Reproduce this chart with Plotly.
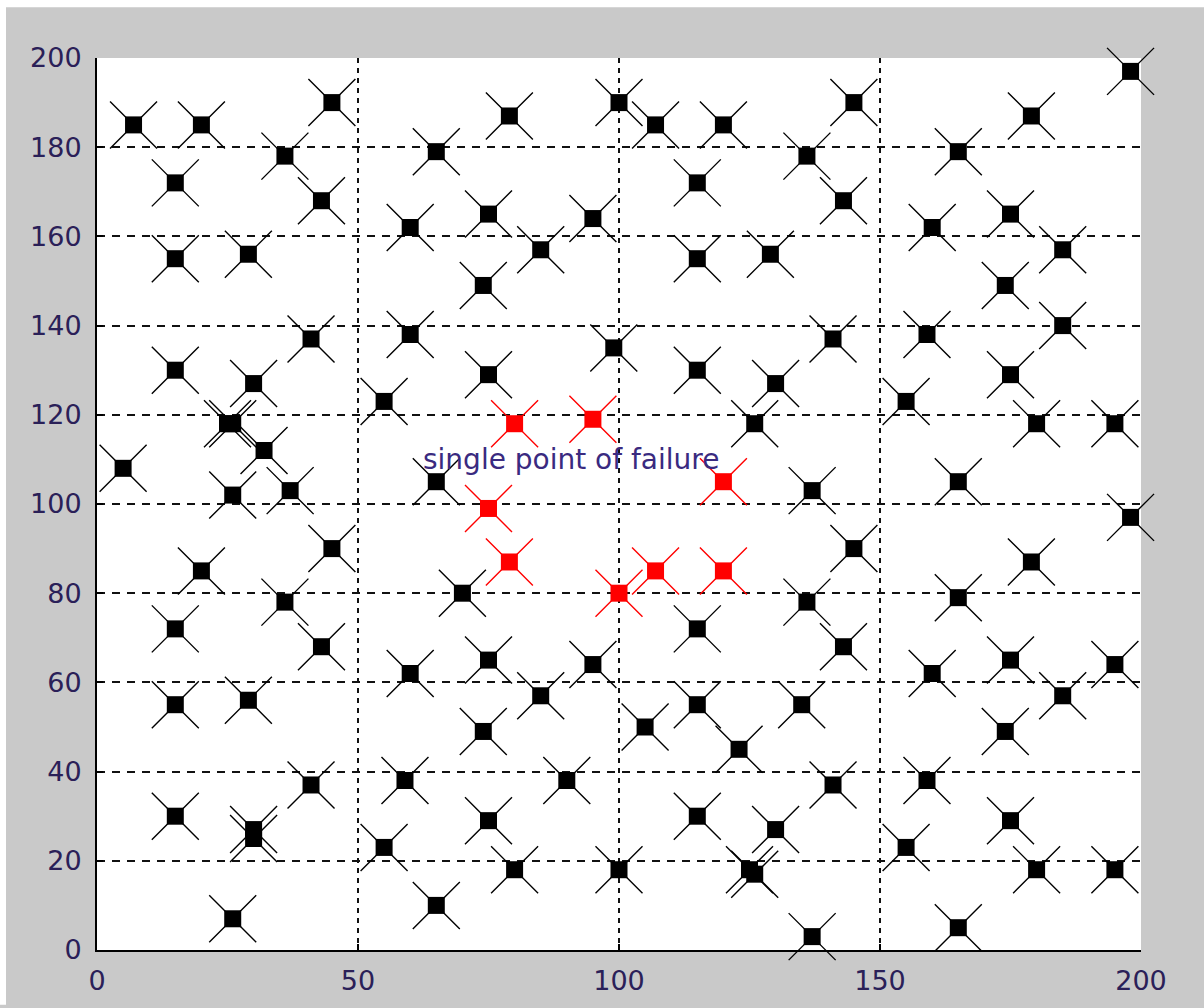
import plotly.graph_objects as go

# Node positions (x, y) in the 200 x 200 field
black_x = [7, 20, 45, 36, 15, 43, 15, 29,
           65, 79, 100, 107, 120, 115, 60, 75, 95, 85, 115, 129, 74, 60,
           198, 145, 179, 136, 165, 143, 175, 160, 185, 174, 185, 141, 159,
           41, 15, 30, 55, 25, 26, 32, 5, 26, 37, 45, 20, 36, 15, 43,
           99, 75, 115, 130, 126, 65, 70, 115,
           155, 175, 180, 195, 165, 137, 198, 145, 179, 136, 165, 143, 175, 195,
           15, 29, 41, 15, 30, 30, 55, 26,
           60, 75, 95, 85, 115, 135, 74, 105, 123, 59, 90, 75, 115, 130,
           80, 100, 125, 126, 65,
           160, 185, 174, 141, 159, 175, 155, 180, 195, 165, 137]
black_y = [185, 185, 190, 178, 172, 168, 155, 156,
           179, 187, 190, 185, 185, 172, 162, 165, 164, 157, 155, 156, 149, 138,
           197, 190, 187, 178, 179, 168, 165, 162, 157, 149, 140, 137, 138,
           137, 130, 127, 123, 118, 118, 112, 108, 102, 103, 90, 85, 78, 72, 68,
           135, 129, 130, 127, 118, 105, 80, 72,
           123, 129, 118, 118, 105, 103, 97, 90, 87, 78, 79, 68, 65, 64,
           55, 56, 37, 30, 27, 25, 23, 7,
           62, 65, 64, 57, 55, 55, 49, 50, 45, 38, 38, 29, 30, 27,
           18, 18, 18, 17, 10,
           62, 57, 49, 37, 38, 29, 23, 18, 18, 5, 3]

# Nodes flagged as single points of failure
red_x = [80, 95, 120, 75, 79, 107, 120, 100]
red_y = [118, 119, 105, 99, 87, 85, 85, 80]

label_text = "single point of failure"
label_x, label_y = 62, 110

x_ticks = [0, 50, 100, 150, 200]
y_ticks = [0, 20, 40, 60, 80, 100, 120, 140, 160, 180, 200]

W, H = 1204, 1008
ML, MR, MT, MB = 97, 63, 58, 53
PW, PH = W - ML - MR, H - MT - MB

tick_font = dict(family="DejaVu Sans", size=27, color="#2a2058")

fig = go.Figure()


def add_nodes(xs, ys, color):
    # large thin cross around each node
    fig.add_trace(go.Scatter(
        x=xs, y=ys, mode="markers", cliponaxis=False, hoverinfo="skip",
        marker=dict(symbol="x-thin", size=47, color=color,
                    line=dict(color=color, width=1.4)),
        showlegend=False))
    # filled square at the node itself
    fig.add_trace(go.Scatter(
        x=xs, y=ys, mode="markers", cliponaxis=False,
        marker=dict(symbol="square", size=17, color=color,
                    line=dict(width=0)),
        showlegend=False))


add_nodes(black_x, black_y, "#000000")
add_nodes(red_x, red_y, "#ff0000")

fig.add_annotation(x=label_x, y=label_y, text=label_text, showarrow=False,
                   xanchor="left", yanchor="middle",
                   font=dict(family="DejaVu Sans", size=28, color="#3a2a80"))


def px_x(px):
    return (px - ML) / PW


def px_y(py):
    return (H - MB - py) / PH


# thin white border strips along the top and left of the figure
fig.add_shape(type="rect", xref="paper", yref="paper",
              x0=px_x(0), x1=px_x(W), y0=px_y(7), y1=px_y(-2),
              fillcolor="white", line=dict(width=0), layer="below")
fig.add_shape(type="rect", xref="paper", yref="paper",
              x0=px_x(-2), x1=px_x(6), y0=px_y(H + 2), y1=px_y(-2),
              fillcolor="white", line=dict(width=0), layer="below")

fig.update_xaxes(
    range=[0, 200], tickvals=x_ticks, ticktext=[str(v) for v in x_ticks],
    showgrid=True, gridcolor="#111111", gridwidth=1.7, griddash="5px,5px",
    zeroline=False, showline=True, linecolor="#000000", linewidth=2,
    mirror=False, ticks="inside", ticklen=6, tickwidth=1.5,
    tickcolor="#000000", tickfont=tick_font, ticklabelstandoff=6)
fig.update_yaxes(
    range=[0, 200], tickvals=y_ticks, ticktext=[str(v) for v in y_ticks],
    showgrid=True, gridcolor="#111111", gridwidth=1.7, griddash="8px,7px",
    zeroline=False, showline=True, linecolor="#000000", linewidth=2,
    mirror=False, ticks="inside", ticklen=6, tickwidth=1.5,
    tickcolor="#000000", tickfont=tick_font, ticklabelstandoff=8)

fig.update_layout(
    width=W, height=H,
    margin=dict(l=ML, r=MR, t=MT, b=MB, pad=0),
    paper_bgcolor="#c9c9c9", plot_bgcolor="#ffffff",
    showlegend=False)

fig.write_html("out.html")
